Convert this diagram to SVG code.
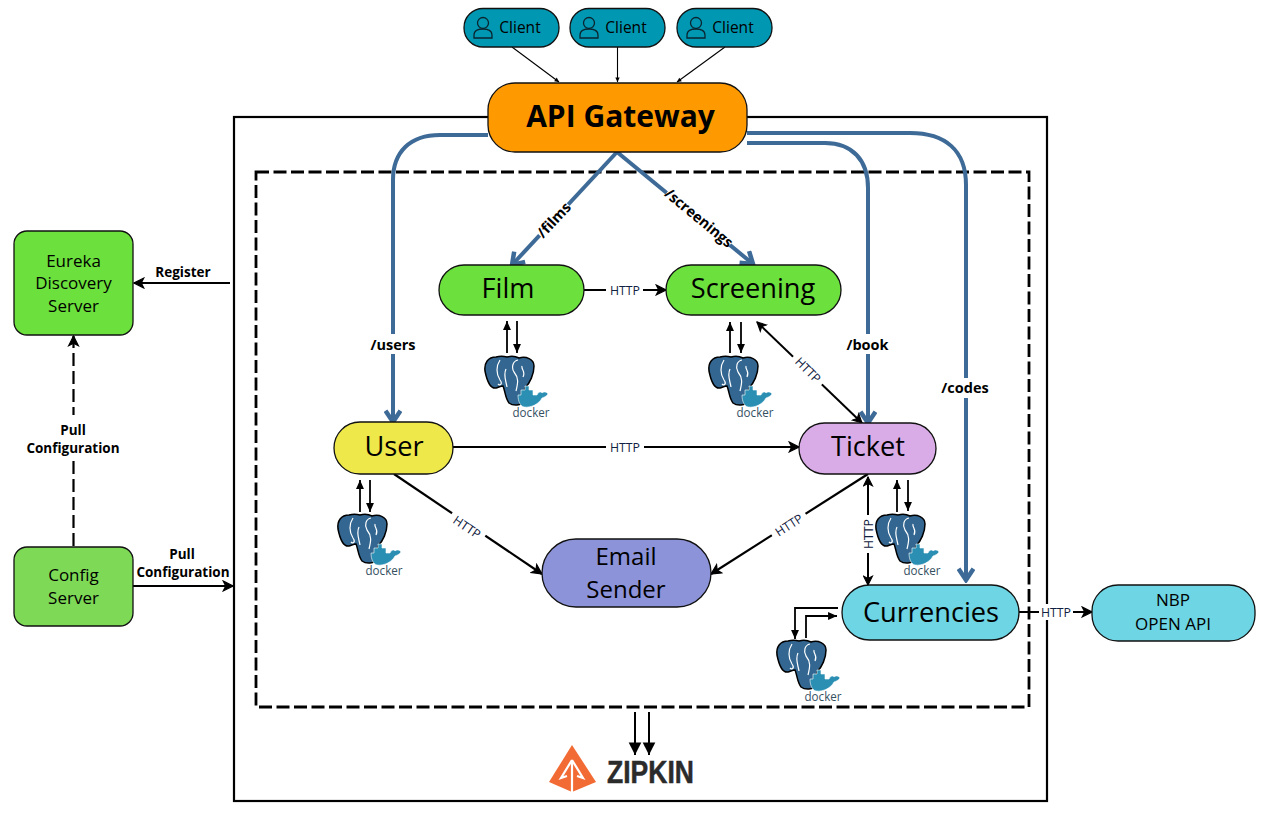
<svg xmlns="http://www.w3.org/2000/svg" width="1263" height="833" viewBox="0 0 1263 833">
<style>
text{font-family:"Open Sans","Noto Sans","Liberation Sans",sans-serif;fill:#000;text-anchor:middle}
.n{stroke:#111;stroke-width:1.3}
.big{font-size:27.2px}
.mid{font-size:24px}
.sm{font-size:17px}
.b{font-weight:700;font-size:14.5px}
.h{font-size:12.300px;fill:#102040}
.p{font-weight:700;font-size:13.500px}
.blue{fill:none;stroke:#3d6a96;stroke-width:4;marker-end:url(#ab)}
.k{fill:none;stroke:#000;stroke-width:2.200;marker-end:url(#ak)}
.t{fill:none;stroke:#000;stroke-width:1.800;marker-end:url(#at)}
.c{fill:none;stroke:#000;stroke-width:1.100;marker-end:url(#ac)}
.z{fill:none;stroke:#000;stroke-width:2;marker-end:url(#az)}
.k2{fill:none;stroke:#000;stroke-width:2;marker-start:url(#aks);marker-end:url(#ak)}
.bg{fill:#fff;stroke:none}
</style>
<defs>
<marker id="ab" viewBox="0 0 12 12" refX="10" refY="6" markerWidth="4.500" markerHeight="4.500" orient="auto"><path d="M2.500 1L10 6L2.500 11" fill="none" stroke="#3d6a96" stroke-width="3"/></marker>
<marker id="ak" viewBox="0 0 10 10" refX="9" refY="5" markerWidth="5.500" markerHeight="5.500" orient="auto"><path d="M1 1L9 5L1 9L3 5Z" fill="#000" stroke="#000"/></marker>
<marker id="aks" viewBox="0 0 10 10" refX="1" refY="5" markerWidth="5.500" markerHeight="5.500" orient="auto"><path d="M9 1L1 5L9 9L7 5Z" fill="#000" stroke="#000"/></marker>
<marker id="at" viewBox="0 0 10 10" refX="9" refY="5" markerWidth="5.500" markerHeight="5.500" orient="auto"><path d="M0 1L9 5L0 9Z" fill="#000"/></marker>
<marker id="ac" viewBox="0 0 10 10" refX="9" refY="5" markerWidth="5" markerHeight="5" orient="auto"><path d="M1 1L9 5L1 9Z" fill="#000"/></marker>
<marker id="az" viewBox="0 0 10 10" refX="9" refY="5" markerWidth="7" markerHeight="7" orient="auto"><path d="M0 0.500L9 5L0 9.500Z" fill="#000"/></marker>
<g id="db">
<path d="M11 0C3 0-1 6 0 14C2 24 5 32 11 31C14 30 16 29 18 29C20 33 20 41 24 46C28 49 36 49 40 44L40 31C45 26 49 17 49 9C49 2 41-1 34 1C30-1 26-1 22 0C18-1 15-1 11 0Z" fill="#336791" stroke="#000" stroke-width="1.500"/>
<path d="M15 3C11 9 11 17 15 23C18 27 15 29 13 27M33 3C28 4 26 10 29 15C34 21 33 26 31 34M21 12C18 18 21 24 22 30M37 9C36 13 41 14 38 20" fill="none" stroke="#fff" stroke-width="1.200"/>
<path d="M33 38H36V33H40V29H44V33H48V38H52C53 35 56 34 57 36C59 34 62 35 63 37C61 40 59 40 57 41C54 47 46 51 39 50C35 49 33 44 33 38Z" fill="#2b8fb3" stroke="#fff" stroke-width=".6"/>
<text x="46" y="59.500" style="font-size:12px;fill:#34505f" textLength="37" lengthAdjust="spacingAndGlyphs">docker</text>
</g>
<g id="person" fill="none" stroke="#0a2530" stroke-width="1.300">
<circle cx="0" cy="-5" r="5.500"/>
<path d="M-9 10V7C-9 2-4 1 0 1C4 1 9 2 9 7V10Z"/>
</g>
</defs>
<rect width="1263" height="833" fill="#fff"/>

<g id="containers" fill="none" stroke="#000">
<rect id="system-boundary" x="234" y="117" width="813" height="684" stroke-width="2.200"/>
<rect id="services-boundary" x="256" y="172" width="773" height="535" stroke-width="2.800" stroke-dasharray="13 4.500"/>
</g>

<g id="connectors">
<path class="c" d="M512 47L559 82"/>
<path class="c" d="M617.500 47V82"/>
<path class="c" d="M725 47L677 82"/>
<path class="blue" d="M488 135H440C410 135 393 152 393 180V422"/>
<path class="blue" d="M617 152L512 265"/>
<path class="blue" d="M617 152L753 264"/>
<path class="blue" d="M747 143H825C852 143 868 160 868 188V423"/>
<path class="blue" d="M747 133H910C945 133 966 150 966 185V580"/>
<path class="k" d="M584 290H666"/>
<path class="k" d="M453 447H799"/>
<path class="k2" d="M757 322L862 423"/>
<path class="k" d="M394 474L542 574"/>
<path class="k" d="M868 474L711 574"/>
<path class="k2" d="M868 477V585"/>
<path class="k" d="M1019 612H1092"/>
<path class="t" d="M507 353V321"/>
<path class="t" d="M517 321V353"/>
<path class="t" d="M730 353V322"/>
<path class="t" d="M741 322V353"/>
<path class="t" d="M360 512V480"/>
<path class="t" d="M370 480V512"/>
<path class="t" d="M897 512V480"/>
<path class="t" d="M908 480V511"/>
<path class="t" d="M838 608H795V639"/>
<path class="t" d="M806 638V616H837"/>
<path class="k" d="M230 283H134"/>
<path class="k" d="M73.500 546V336" stroke-width="2.600" stroke-dasharray="13 5"/>
<path class="k" d="M133 586H233"/>
<path class="z" d="M635 712V755"/>
<path class="z" d="M649 712V755"/>
</g>

<g id="connector-labels">
<rect class="bg" x="367" y="334" width="52" height="20"/><text class="b" x="393" y="349.500">/users</text>
<rect class="bg" x="844" y="334" width="48" height="20"/><text class="b" x="867.500" y="349.500">/book</text>
<rect class="bg" x="940" y="378" width="50" height="20"/><text class="b" x="965" y="392.500">/codes</text>
<rect class="bg" x="533" y="210" width="42" height="20" transform="rotate(-47 554 220)"/><text class="b" x="554" y="225" transform="rotate(-47 554 220)">/films</text>
<rect class="bg" x="658" y="208" width="82" height="20" transform="rotate(39.500 699 218)"/><text class="b" x="699" y="223" transform="rotate(39.500 699 218)">/screenings</text>
<rect class="bg" x="606" y="282" width="37" height="16"/><text class="h" x="625" y="295">HTTP</text>
<rect class="bg" x="606" y="439" width="38" height="16"/><text class="h" x="625" y="452">HTTP</text>
<rect class="bg" x="788" y="361" width="40" height="18" transform="rotate(45 808 370)"/><text class="h" x="808" y="374.500" transform="rotate(45 808 370)">HTTP</text>
<rect class="bg" x="447" y="518" width="40" height="18" transform="rotate(34 467 527)"/><text class="h" x="467" y="531.500" transform="rotate(34 467 527)">HTTP</text>
<rect class="bg" x="769" y="516" width="40" height="18" transform="rotate(-33 789 525)"/><text class="h" x="789" y="529.500" transform="rotate(-33 789 525)">HTTP</text>
<rect class="bg" x="860" y="515" width="16" height="38"/><text class="h" x="868" y="534" transform="rotate(-90 868 534)" dy="4.500">HTTP</text>
<rect class="bg" x="1039" y="604" width="34" height="16"/><text class="h" x="1056" y="617">HTTP</text>
<text class="p" x="183" y="277">Register</text>
<rect class="bg" x="24" y="415" width="100" height="45"/>
<text class="p" x="73" y="435">Pull</text>
<text class="p" x="73" y="453">Configuration</text>
<text class="p" x="182" y="559">Pull</text>
<text class="p" x="183" y="577">Configuration</text>
</g>

<g id="client-1"><rect class="n" x="464" y="8.500" width="95" height="38.500" rx="19" fill="#0097b2"/><use href="#person" x="483" y="28"/><text x="520" y="33" style="font-size:15.500px">Client</text></g>
<g id="client-2"><rect class="n" x="570" y="8.500" width="95" height="38.500" rx="19" fill="#0097b2"/><use href="#person" x="589" y="28"/><text x="626" y="33" style="font-size:15.500px">Client</text></g>
<g id="client-3"><rect class="n" x="677" y="8.500" width="95" height="38.500" rx="19" fill="#0097b2"/><use href="#person" x="696" y="28"/><text x="733" y="33" style="font-size:15.500px">Client</text></g>
<g id="api-gateway"><rect class="n" x="488" y="83" width="259" height="69" rx="27" fill="#ff9900"/><text x="620.500" y="127" style="font-size:30px;font-weight:700">API Gateway</text></g>
<g id="eureka"><rect class="n" x="14" y="231" width="119" height="104" rx="13" fill="#6ce03c"/><text class="sm" x="73.500" y="267">Eureka</text><text class="sm" x="73.500" y="289">Discovery</text><text class="sm" x="73.500" y="312">Server</text></g>
<g id="config"><rect class="n" x="14" y="547" width="119" height="79" rx="13" fill="#7ed957"/><text class="sm" x="73.500" y="581">Config</text><text class="sm" x="73.500" y="604">Server</text></g>
<g id="film"><rect class="n" x="439" y="265" width="145" height="50" rx="25" fill="#6ce03c"/><text class="big" x="508" y="298">Film</text></g>
<g id="screening"><rect class="n" x="666" y="265" width="175" height="50" rx="25" fill="#6ce03c"/><text class="big" x="753" y="298">Screening</text></g>
<g id="user"><rect class="n" x="334" y="422" width="119" height="52" rx="26" fill="#eee84a"/><text class="big" x="394" y="456">User</text></g>
<g id="ticket"><rect class="n" x="799" y="423" width="137" height="51" rx="25.500" fill="#d9ace8"/><text class="big" x="868" y="456">Ticket</text></g>
<g id="email"><rect class="n" x="542" y="539" width="169" height="68" rx="34" fill="#8c93d8"/><text class="mid" x="626" y="565">Email</text><text class="mid" x="626" y="598">Sender</text></g>
<g id="currencies"><rect class="n" x="842" y="585" width="177" height="55" rx="27.500" fill="#6dd5e3"/><text class="big" x="931" y="622">Currencies</text></g>
<g id="nbp"><rect class="n" x="1092" y="585" width="163" height="56" rx="26" fill="#6dd5e3"/><text class="sm" x="1173" y="606">NBP</text><text class="sm" x="1173" y="630">OPEN API</text></g>

<g id="db-film"><use href="#db" x="485" y="357"/></g>
<g id="db-screening"><use href="#db" x="709" y="357"/></g>
<g id="db-user"><use href="#db" x="338" y="515"/></g>
<g id="db-ticket"><use href="#db" x="876" y="515"/></g>
<g id="db-currencies"><use href="#db" x="777" y="641"/></g>

<g id="zipkin">
<path d="M572 745L596 782L572 792L549 782Z" fill="#f26b35"/>
<path d="M572 760V792M572 760L561 778L567 776M572 760L583 778L577 776" fill="none" stroke="#fff" stroke-width="2.200"/>
<text x="650.500" y="783" style="font-family:'Liberation Sans',sans-serif;font-size:32px;font-weight:700;fill:#2b2b2b;stroke:#2b2b2b;stroke-width:.5" textLength="87" lengthAdjust="spacingAndGlyphs">ZIPKIN</text>
</g>
</svg>
